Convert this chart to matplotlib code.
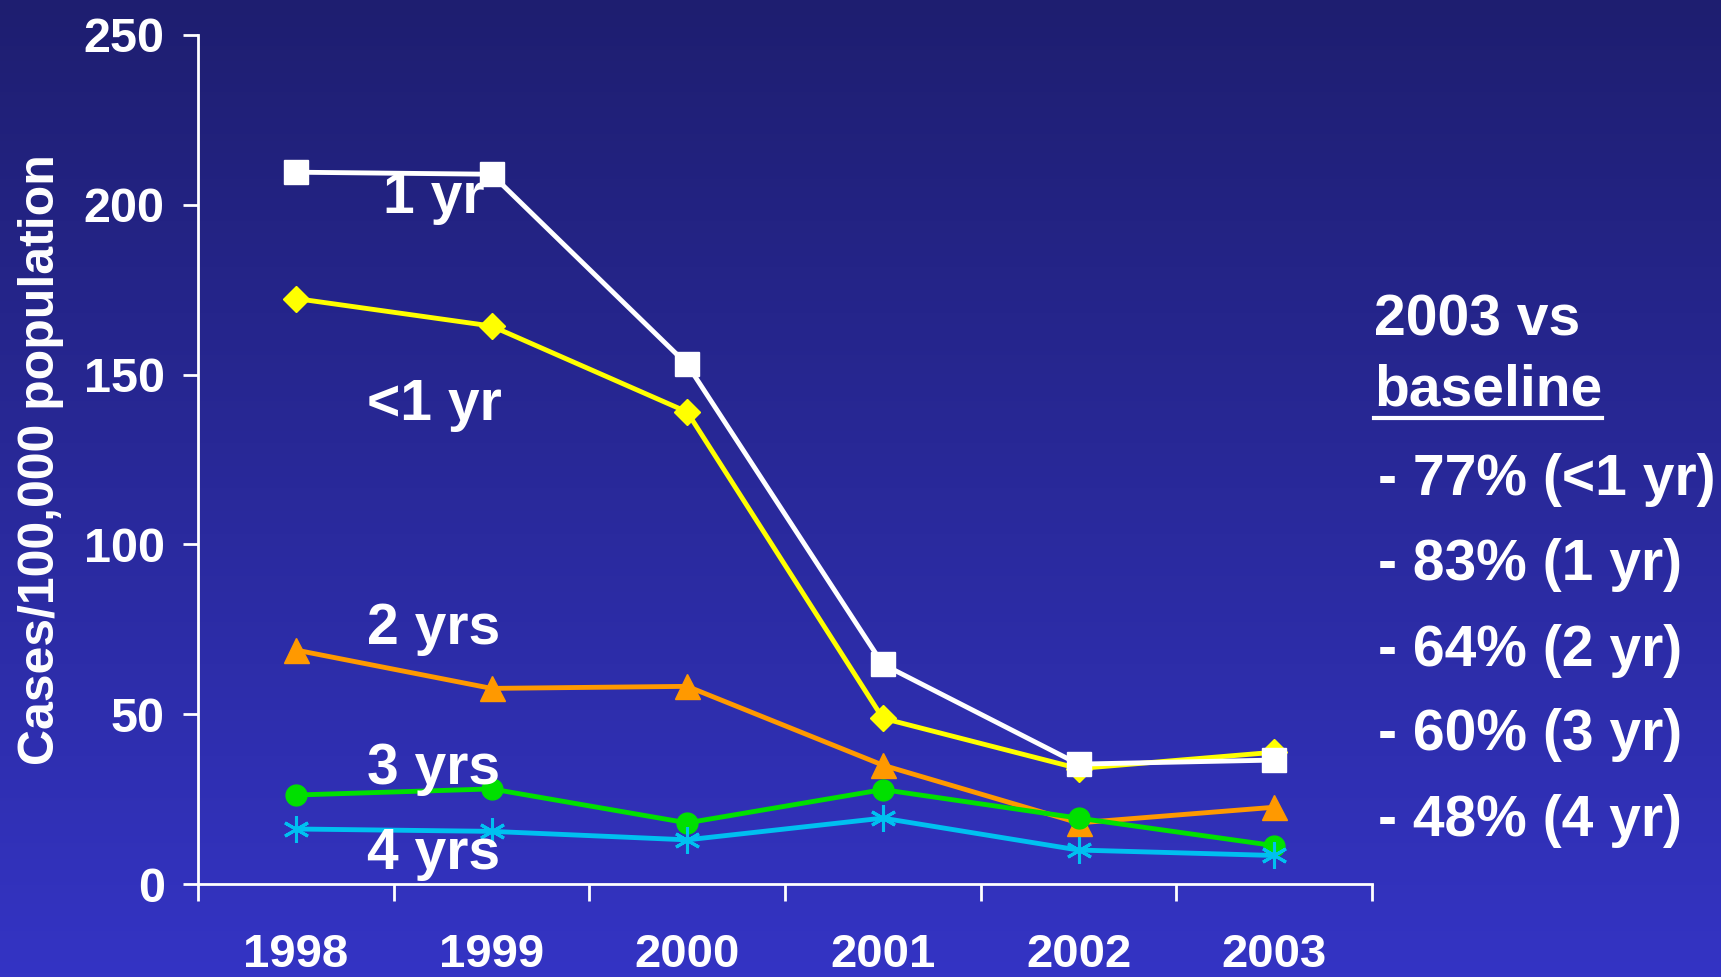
import numpy as np
import matplotlib
matplotlib.use("Agg")
import matplotlib.pyplot as plt
from matplotlib.lines import Line2D

plt.rcParams['font.family'] = ['Liberation Sans', 'DejaVu Sans']
plt.rcParams['font.weight'] = 'bold'

# data
years = ['1998', '1999', '2000', '2001', '2002', '2003']
under_1 = [172.4, 164.3, 139.0, 48.8, 34.0, 38.8]
age_1 = [209.6, 209.0, 153.0, 64.7, 35.3, 36.5]
age_2 = [68.9, 57.6, 58.2, 35.0, 18.0, 22.6]
age_3 = [26.2, 28.0, 18.0, 27.8, 19.4, 11.3]
age_4 = [16.2, 15.5, 13.0, 19.4, 10.0, 8.4]

series_labels = ['1 yr', '<1 yr', '2 yrs', '3 yrs', '4 yrs']
label_y = [202, 141, 75, 34, 8.7]

right_lines = ['- 77% (<1 yr)', '- 83% (1 yr)', '- 64% (2 yr)',
               '- 60% (3 yr)', '- 48% (4 yr)']

W, H = 1721, 977
fig = plt.figure(figsize=(W / 100, H / 100), dpi=100)

# gradient background
bg = fig.add_axes([0, 0, 1, 1], zorder=-10)
top = np.array([30, 30, 112]) / 255.0
bot = np.array([52, 52, 196]) / 255.0
t = np.linspace(0, 1, 256)[:, None]
grad = top + (bot - top) * t
bg.imshow(grad[:, None, :], aspect='auto', extent=[0, 1, 0, 1])
bg.axis('off')

ax = fig.add_axes([198 / W, (H - 884) / H, (1372 - 198) / W, (884 - 35) / H])
ax.patch.set_alpha(0)

x = np.arange(len(years))
ax.plot(x, age_1, color='white', lw=3.5, marker='s', ms=17, zorder=5)
ax.plot(x, under_1, color='#ffff00', lw=3.5, marker='D', ms=13, zorder=4)
ax.plot(x, age_2, color='#ff9900', lw=3.5, marker='^', ms=18, zorder=3)
ax.plot(x, age_3, color='#00e000', lw=3.5, marker='o', ms=15, zorder=3)
ax.plot(x, age_4, color='#00c0f0', lw=3.5, marker=(6, 2, 0), ms=19, mew=2.2,
        zorder=3)

for lab, yy in zip(series_labels, label_y):
    ax.text(0.706, yy, lab, color='white', fontsize=41, fontweight='bold',
            ha='center', va='center', zorder=6)

ax.set_xlim(-0.5, 5.5)
ax.set_ylim(0, 250)
for s in ['top', 'right']:
    ax.spines[s].set_visible(False)
for s in ['left', 'bottom']:
    ax.spines[s].set_color('white')
    ax.spines[s].set_linewidth(2)

ax.set_yticks(np.arange(0, 251, 50))
ax.tick_params(axis='y', colors='white', length=11, width=2, pad=13,
               labelsize=35)
ax.set_xticks(np.arange(-0.5, 6, 1))
ax.set_xticklabels([])
ax.tick_params(axis='x', which='major', colors='white', length=12, width=2)
ax.set_xticks(x, minor=True)
ax.set_xticklabels(years, minor=True)
ax.tick_params(axis='x', which='minor', length=0, pad=35, labelsize=34,
               labelcolor='white')
for lbl in ax.get_yticklabels() + ax.get_xticklabels(minor=True):
    lbl.set_fontweight('bold')

ax.set_ylabel('Cases/100,000 population', color='white', fontsize=36,
              fontweight='bold', labelpad=14)

# right-hand summary text
fs_right = 41
fig.text(1374 / W, 1 - 321 / H, '2003 vs', color='white', fontsize=fs_right,
         fontweight='bold', va='center', ha='left')
base = fig.text(1374 / W, 1 - 390 / H, 'baseline', color='white',
                fontsize=fs_right, fontweight='bold', va='center', ha='left')
line_y = [480, 565, 651, 735, 821]
for txt, yy in zip(right_lines, line_y):
    fig.text(1378 / W, 1 - yy / H, txt, color='white', fontsize=fs_right,
             fontweight='bold', va='center', ha='left')

fig.canvas.draw()
bb = base.get_window_extent()
fig.add_artist(Line2D([bb.x0 / W, bb.x1 / W], [(bb.y0 - 1) / H, (bb.y0 - 1) / H],
                      color='white', lw=3, transform=fig.transFigure))

fig.savefig('out.png', dpi=100)
